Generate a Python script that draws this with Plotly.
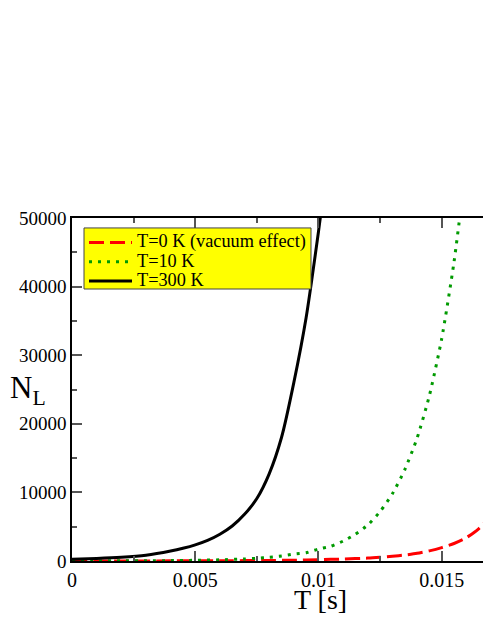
import plotly.graph_objects as go

# Time axis values [s] and N_L for each temperature
t_300 = [0, 0.001, 0.002, 0.003, 0.004, 0.0045, 0.005, 0.0055, 0.006, 0.0065, 0.007,
         0.0075, 0.008, 0.0085, 0.009, 0.0095, 0.01, 0.0102]
n_300 = [260, 370, 540, 840, 1450, 1850, 2350, 3000, 3900, 5100, 6800,
         9100, 12700, 18000, 26000, 35500, 48000, 53500]

t_10 = [0, 0.001, 0.002, 0.003, 0.004, 0.005, 0.006, 0.007, 0.0075, 0.008,
        0.0085, 0.009, 0.0095, 0.01, 0.0105, 0.011, 0.0115, 0.012, 0.0125,
        0.013, 0.0135, 0.014, 0.0145, 0.015, 0.0155, 0.016]
n_10 = [10, 15, 25, 40, 60, 100, 170, 300, 400, 550,
        720, 1000, 1200, 1750, 2150, 2900, 3900, 5250, 7200,
        9800, 13300, 17900, 24100, 32400, 43600, 58000]

t_0 = [0, 0.002, 0.004, 0.006, 0.008, 0.009, 0.01, 0.011, 0.012, 0.0125,
       0.013, 0.0135, 0.014, 0.0145, 0.015, 0.0155, 0.016, 0.0165, 0.017, 0.0175]
n_0 = [5, 10, 20, 40, 80, 120, 190, 290, 420, 540,
       680, 870, 1120, 1480, 1950, 2550, 3400, 4700, 6700, 9500]

x_tickvals = [0, 0.005, 0.01, 0.015]
x_ticktext = ["0", "0.005", "0.01", "0.015"]
y_tickvals = [0, 10000, 20000, 30000, 40000, 50000]
y_ticktext = ["0", "10000", "20000", "30000", "40000", "50000"]

labels = ["T=0 K (vacuum effect)", "T=10 K", "T=300 K"]

SERIF = "Liberation Serif, Times New Roman, serif"


def big(s):
    return '<span style="font-size:18.3px">' + s + '</span>'


fig = go.Figure()
fig.add_trace(go.Scatter(x=t_0, y=n_0, mode="lines", name=big(labels[0]),
                         line=dict(color="#ff0000", width=3, dash="15px,6px",
                                   shape="spline", smoothing=0.6)))
fig.add_trace(go.Scatter(x=t_10, y=n_10, mode="lines", name=big(labels[1]),
                         line=dict(color="#009a00", width=3, dash="3px,6px",
                                   shape="spline", smoothing=0.6)))
fig.add_trace(go.Scatter(x=t_300, y=n_300, mode="lines", name=big(labels[2]),
                         line=dict(color="#000000", width=3,
                                   shape="spline", smoothing=0.6)))

# The page body adds an 8px offset; the figure is sized so the page does not
# overflow the window, and the plot area lands at screen x 72..491, y 218..561.
PW = 419.0  # plot-area width in px
fig.update_layout(
    width=483, height=619,
    margin=dict(l=64, r=0, t=210, b=66),
    paper_bgcolor="white", plot_bgcolor="white",
    font=dict(family=SERIF, size=19, color="black"),
    showlegend=True,
    legend=dict(x=12 / PW, y=0.971, xanchor="left", yanchor="top",
                bgcolor="rgba(0,0,0,0)", borderwidth=0,
                font=dict(family=SERIF, size=12.5, color="black"),
                tracegroupgap=0, itemwidth=43),
)
# yellow legend frame (covers the curves like the original legend box)
fig.add_shape(type="rect", xref="paper", yref="paper",
              x0=12 / PW, x1=239 / PW, y0=0.793, y1=0.971,
              fillcolor="#ffff00", line=dict(color="#444", width=1), layer="above")

fig.update_xaxes(
    range=[0, 0.017], tickvals=x_tickvals, ticktext=x_ticktext,
    showgrid=False, zeroline=False, automargin=False,
    showline=True, linecolor="black", linewidth=1.5, mirror="ticks",
    ticks="inside", ticklen=10, tickwidth=1.5, tickcolor="#555",
    minor=dict(dtick=0.0025, ticks="inside", ticklen=5, tickwidth=1.5, tickcolor="#555"),
    tickfont=dict(family=SERIF, size=20),
)
fig.update_yaxes(
    range=[0, 50000], tickvals=y_tickvals, ticktext=y_ticktext,
    showgrid=False, zeroline=False, automargin=False,
    showline=True, linecolor="black", linewidth=1.5, mirror=False,
    ticks="inside", ticklen=10, tickwidth=1.5, tickcolor="#555",
    minor=dict(dtick=5000, ticks="inside", ticklen=5, tickwidth=1.5, tickcolor="#555"),
    tickfont=dict(family=SERIF, size=19),
)
fig.add_annotation(text="T [s]", xref="paper", yref="paper", x=248 / PW, y=-0.112,
                   xanchor="center", yanchor="middle", showarrow=False,
                   font=dict(family=SERIF, size=28, color="black"))
fig.add_annotation(text="N<sub>L</sub>", xref="paper", yref="paper", x=-44 / PW, y=0.5,
                   xanchor="center", yanchor="middle", showarrow=False,
                   font=dict(family=SERIF, size=31, color="black"))

fig.write_html("out.html")
